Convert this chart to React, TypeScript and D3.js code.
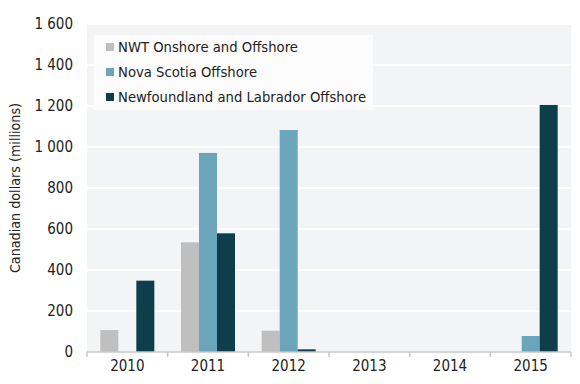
import React from 'react';
import * as d3 from 'd3';

const years = ['2010', '2011', '2012', '2013', '2014', '2015'];
const seriesNames = ['NWT Onshore and Offshore', 'Nova Scotia Offshore', 'Newfoundland and Labrador Offshore'];
const nwt = [107, 535, 104, 0, 0, 0];
const novaScotia = [0, 971, 1083, 0, 0, 78];
const newfoundland = [348, 579, 13, 0, 0, 1205];
const yTicks = [0, 200, 400, 600, 800, 1000, 1200, 1400, 1600];
const colors = ['#c0bfc0', '#6aa5bb', '#0e3d4b'];

const W = 580;
const H = 384;
const m = { left: 87, right: 9, top: 24, bottom: 32 };
const font = '"DejaVu Sans Condensed", "DejaVu Sans", sans-serif';

function fmt(v: number) {
  return d3.format(',')(v).replace(/,/g, ' ');
}

export default function App() {
  const series = [nwt, novaScotia, newfoundland];
  const x = d3.scaleBand().domain(years).range([m.left, W - m.right]);
  const inner = d3
    .scaleBand()
    .domain(['0', '1', '2'])
    .range([0, x.bandwidth()])
    .paddingInner(0)
    .paddingOuter(0.74);
  const y = d3.scaleLinear().domain([0, 1600]).range([H - m.bottom, m.top]);

  return (
    <svg
      width={W}
      height={H}
      style={{ position: 'absolute', left: 0, top: 0, fontStretch: 'condensed' }}
      fontFamily={font}
    >
      <rect x={m.left} y={m.top} width={W - m.left - m.right} height={y(0) - m.top} fill="#f3f4f6" />
      {yTicks.map(t => (
        <g key={t}>
          {t > 0 && (
            <line x1={m.left} x2={W - m.right} y1={y(t)} y2={y(t)} stroke="#ffffff" strokeWidth={2} />
          )}
          <text x={73} y={y(t)} dy="0.35em" textAnchor="end" fontSize={15} fill="#222">
            {fmt(t)}
          </text>
        </g>
      ))}
      {series.map((vals, si) =>
        years.map((yr, i) =>
          vals[i] > 0 ? (
            <rect
              key={si + '-' + yr}
              x={(x(yr) as number) + (inner(String(si)) as number)}
              y={y(vals[i])}
              width={inner.bandwidth()}
              height={y(0) - y(vals[i])}
              fill={colors[si]}
            />
          ) : null
        )
      )}
      <line x1={m.left} x2={W - m.right} y1={y(0)} y2={y(0)} stroke="#c8c8c8" strokeWidth={1.5} />
      {years.concat(['end']).map((yr, i) => {
        const xx = m.left + i * x.step();
        return <line key={'t' + i} x1={xx} x2={xx} y1={y(0)} y2={y(0) + 5} stroke="#c8c8c8" strokeWidth={1.5} />;
      })}
      {years.map(yr => (
        <text
          key={'l' + yr}
          x={(x(yr) as number) + x.bandwidth() / 2}
          y={366}
          dy="0.35em"
          textAnchor="middle"
          fontSize={15}
          fill="#222"
        >
          {yr}
        </text>
      ))}
      <text
        transform={`translate(15, ${(m.top + y(0)) / 2}) rotate(-90)`}
        textAnchor="middle"
        dy="0.35em"
        fontSize={14.2}
        fill="#222"
      >
        Canadian dollars (millions)
      </text>
      <rect x={94} y={35} width={279} height={75} fill="#fdfcfd" />
      {seriesNames.map((name, i) => (
        <g key={name} transform={`translate(106, ${47 + i * 25})`}>
          <rect x={0} y={-4} width={8} height={8} fill={colors[i]} />
          <text x={12} y={0} dy="0.35em" fontSize={14.7} fill="#222">
            {name}
          </text>
        </g>
      ))}
    </svg>
  );
}
